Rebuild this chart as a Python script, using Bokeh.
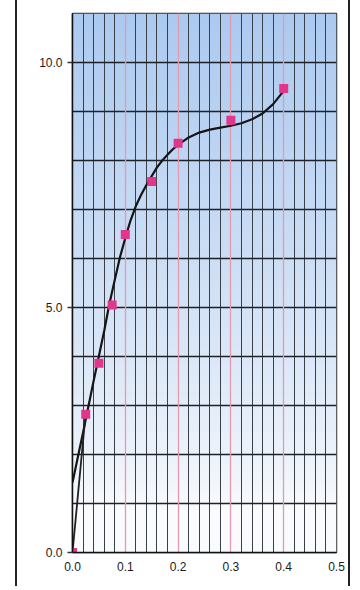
import numpy as np
from bokeh.plotting import figure
from bokeh.models import Range1d, FixedTicker, Grid, NumeralTickFormatter
from bokeh.embed import file_html
from bokeh.resources import INLINE

# ---- data ----
conc = [0.0, 0.025, 0.05, 0.075, 0.1, 0.15, 0.2, 0.3, 0.4]
response = [0.0, 2.82, 3.86, 5.05, 6.49, 7.57, 8.35, 8.82, 9.47]

fit_x = [0.0, 0.02, 0.04, 0.06, 0.07, 0.08, 0.09, 0.1, 0.11, 0.12, 0.13,
         0.14, 0.15, 0.16, 0.17, 0.18, 0.19, 0.2, 0.22, 0.24, 0.26, 0.28,
         0.3, 0.32, 0.34, 0.36, 0.38, 0.4, 0.405]
fit_y = [1.43, 2.45, 3.5, 4.52, 5.08, 5.56, 6.03, 6.42, 6.78, 7.07, 7.3,
         7.5, 7.68, 7.86, 8.0, 8.12, 8.23, 8.32, 8.47, 8.57, 8.63, 8.67,
         8.71, 8.76, 8.84, 8.96, 9.15, 9.42, 9.48]

origin_x = [0.0, 0.025]
origin_y = [0.0, 2.85]

x_ticks = [0.0, 0.1, 0.2, 0.3, 0.4, 0.5]
y_ticks = [0.0, 5.0, 10.0]

X_MAX = 0.5
Y_MAX = 11.0

W, H = 335, 586
p = figure(width=W, height=H, x_range=Range1d(0, X_MAX), y_range=Range1d(0, Y_MAX),
           output_backend="svg", toolbar_location=None,
           min_border_left=55, min_border_right=16, min_border_top=13, min_border_bottom=34)
p.styles = {"margin-left": "15px",
            "border-left": "2px solid #222222",
            "border-right": "2px solid #222222"}

p.background_fill_color = "white"
p.border_fill_color = "white"

# background gradient (light blue at top fading to white at bottom)
N = 220
top = np.array([172, 202, 240], dtype=float)
bot = np.array([250, 251, 253], dtype=float)
img = np.empty((N, 2), dtype=np.uint32)
view = img.view(dtype=np.uint8).reshape((N, 2, 4))
for i in range(N):
    t = i / (N - 1)
    f = min(max((t - 0.08) / 0.92, 0.0), 1.0) ** 0.8
    c = bot + (top - bot) * f
    view[i, :, 0] = int(c[0])
    view[i, :, 1] = int(c[1])
    view[i, :, 2] = int(c[2])
    view[i, :, 3] = 255
p.image_rgba(image=[img], x=0, y=0, dw=X_MAX, dh=Y_MAX, level="image")

# grids
minor_v = [round(0.02 * i, 2) for i in range(1, 25) if i % 5 != 0]
major_v = [0.1, 0.2, 0.3, 0.4]
p.xgrid.ticker = FixedTicker(ticks=minor_v)
p.xgrid.grid_line_color = "#3a3f48"
p.xgrid.grid_line_width = 1
p.add_layout(Grid(dimension=0, ticker=FixedTicker(ticks=major_v),
                  grid_line_color="#e39aae", grid_line_width=1.3))
p.ygrid.ticker = FixedTicker(ticks=[float(v) for v in range(1, 11)])
p.ygrid.grid_line_color = "#1e2228"
p.ygrid.grid_line_width = 1.5

p.outline_line_color = "#333333"
p.outline_line_width = 1.5

# axes
for ax in (p.xaxis[0], p.yaxis[0]):
    ax.axis_line_color = "#111111"
    ax.axis_line_width = 1.5
    ax.minor_tick_line_color = None
    ax.major_label_text_font = "Liberation Sans"
    ax.major_label_text_font_size = "12px"
    ax.major_label_text_color = "#1a1a1a"
    ax.formatter = NumeralTickFormatter(format="0.0")

p.xaxis.ticker = FixedTicker(ticks=x_ticks)
p.xaxis.major_tick_out = 0
p.xaxis.major_tick_in = 0
p.xaxis.major_label_standoff = 9

p.yaxis.ticker = FixedTicker(ticks=y_ticks)
p.yaxis.major_tick_out = 5
p.yaxis.major_tick_in = 0
p.yaxis.major_tick_line_color = "#333333"
p.yaxis.major_tick_line_width = 1.5
p.yaxis.major_label_standoff = 5

# curve + origin segment
p.line(fit_x, fit_y, line_color="#151515", line_width=2.2)
p.line(origin_x, origin_y, line_color="#202020", line_width=1.8)

# data points
p.scatter(conc, response, marker="square", size=9, fill_color="#e2358c",
          line_color=None)

open("out.html", "w").write(file_html(p, INLINE))
